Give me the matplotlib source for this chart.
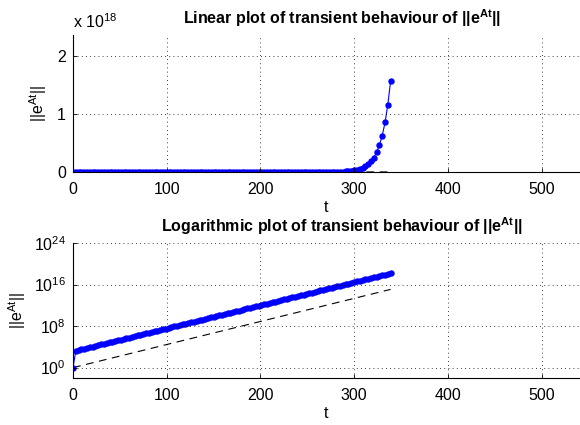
import numpy as np
import matplotlib
matplotlib.use("Agg")
import matplotlib.pyplot as plt
from matplotlib.ticker import FixedLocator, FuncFormatter, NullLocator

plt.rcParams['font.family'] = ['Liberation Sans', 'DejaVu Sans']
plt.rcParams['mathtext.fontset'] = 'custom'
plt.rcParams['mathtext.rm'] = 'Liberation Sans'
plt.rcParams['mathtext.it'] = 'Liberation Sans:italic'
plt.rcParams['mathtext.bf'] = 'Liberation Sans:bold'
plt.rcParams['mathtext.default'] = 'regular'

# time grid
t = np.arange(0, 342, 3)

# ||e^{At}|| values
norm_vals = [
    1.0,
    1.83e3, 2.49e3, 3.39e3, 4.61e3, 6.26e3, 8.51e3, 1.16e4, 1.57e4, 2.14e4, 2.91e4, 3.95e4, 5.37e4, 7.30e4, 9.93e4, 1.35e5,
    1.83e5, 2.49e5, 3.39e5, 4.61e5, 6.26e5, 8.51e5, 1.16e6, 1.57e6, 2.14e6, 2.91e6, 3.95e6, 5.37e6, 7.30e6, 9.93e6, 1.35e7,
    1.83e7, 2.49e7, 3.39e7, 4.61e7, 6.26e7, 8.51e7, 1.16e8, 1.57e8, 2.14e8, 2.91e8, 3.95e8, 5.37e8, 7.30e8, 9.93e8, 1.35e9,
    1.83e9, 2.49e9, 3.39e9, 4.61e9, 6.26e9, 8.51e9, 1.16e10, 1.57e10, 2.14e10, 2.91e10, 3.95e10, 5.37e10, 7.30e10, 9.93e10, 1.35e11,
    1.83e11, 2.49e11, 3.39e11, 4.61e11, 6.26e11, 8.51e11, 1.16e12, 1.57e12, 2.14e12, 2.91e12, 3.95e12, 5.37e12, 7.30e12, 9.93e12, 1.35e13,
    1.83e13, 2.49e13, 3.39e13, 4.61e13, 6.26e13, 8.51e13, 1.16e14, 1.57e14, 2.14e14, 2.91e14, 3.95e14, 5.37e14, 7.30e14, 9.93e14, 1.35e15,
    1.83e15, 2.49e15, 3.39e15, 4.61e15, 6.26e15, 8.51e15, 1.16e16, 1.57e16, 2.14e16, 2.91e16, 3.95e16, 5.37e16, 7.30e16, 9.93e16, 1.35e17,
    1.83e17, 2.49e17, 3.39e17, 4.61e17, 6.26e17, 8.51e17, 1.16e18, 1.57e18,
]

# asymptotic growth rate line (dashed)
bound_t = [0, 339]
bound_vals = [1.0, 1.17e15]

x_ticks = [0, 100, 200, 300, 400, 500]
lin_yticks = [0, 1e18, 2e18]
log_yticks = [1e0, 1e8, 1e16, 1e24]
log_ylabels = ['$10^{0}$', '$10^{8}$', '$10^{16}$', '$10^{24}$']

W, H = 580, 425
fig = plt.figure(figsize=(W / 100, H / 100), dpi=100)
FS = 11.5
TX = (342 - 73) / (579 - 73)

def style(ax):
    ax.spines['top'].set_visible(False)
    ax.spines['right'].set_visible(False)
    ax.spines['left'].set_linewidth(0.8)
    ax.spines['bottom'].set_linewidth(0.8)
    ax.tick_params(direction='in', length=3, width=0.6, labelsize=FS)
    ax.tick_params(axis='x', pad=7)
    ax.tick_params(axis='y', pad=5)
    ax.grid(True, which='major', linestyle=(0, (1, 4)), color='black', linewidth=0.6)
    ax.set_axisbelow(False)
    ax.set_xlim(0, 540)
    ax.xaxis.set_major_locator(FixedLocator(x_ticks))

# top: linear
ax1 = fig.add_axes([73 / W, 1 - 172 / H, (579 - 73) / W, (172 - 35) / H])
ax1.plot(bound_t, bound_vals, linestyle=(0, (7, 5)), color='black', linewidth=0.8)
ax1.plot(t, norm_vals, color='blue', marker='o', markersize=3.6, linewidth=0.8)
style(ax1)
ax1.set_ylim(0, 1.5 * max(norm_vals))
ax1.yaxis.set_major_locator(FixedLocator(lin_yticks))
ax1.yaxis.set_major_formatter(FuncFormatter(lambda v, p: '%d' % round(v / 1e18)))
ax1.text(0.0, 1.03, r'x 10$^{18}$', transform=ax1.transAxes, fontsize=FS, ha='left', va='bottom')
t1 = ax1.set_title(r'Linear plot of transient behaviour of $\mathbf{||e^{At}||}$',
                   fontsize=11.5, fontweight='bold', pad=8)
t1.set_x(TX)
ax1.set_xlabel('t', fontsize=FS, labelpad=2)
ax1.set_ylabel(r'$||e^{At}||$', fontsize=FS, labelpad=6)

# bottom: log
ax2 = fig.add_axes([73 / W, 1 - 378 / H, (579 - 73) / W, (378 - 243) / H])
ax2.semilogy(bound_t, bound_vals, linestyle=(0, (7, 5)), color='black', linewidth=0.8)
ax2.semilogy(t, norm_vals, color='blue', marker='o', markersize=3.6, linewidth=0.8)
style(ax2)
ax2.set_ylim(1e-2, 1e24)
ax2.yaxis.set_major_locator(FixedLocator(log_yticks))
ax2.yaxis.set_major_formatter(FuncFormatter(lambda v, p: log_ylabels[p] if p is not None and p < len(log_ylabels) else ''))
ax2.yaxis.set_minor_locator(NullLocator())
t2 = ax2.set_title(r'Logarithmic plot of transient behaviour of $\mathbf{||e^{At}||}$',
                   fontsize=11.5, fontweight='bold', pad=8)
t2.set_x(TX)
ax2.set_xlabel('t', fontsize=FS, labelpad=2)
ax2.set_ylabel(r'$||e^{At}||$', fontsize=FS, labelpad=4)

fig.savefig('out.png', dpi=100)
